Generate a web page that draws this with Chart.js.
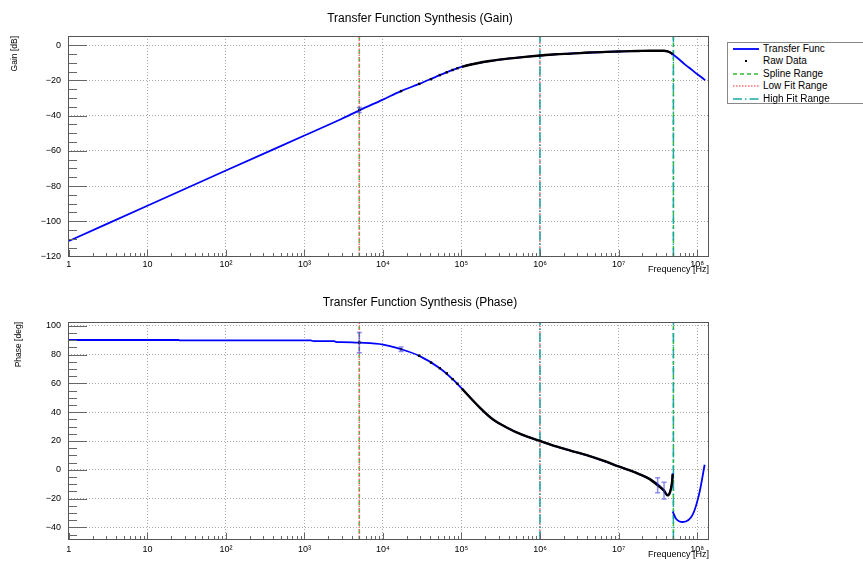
<!DOCTYPE html>
<html>
<head>
<meta charset="utf-8">
<script src="https://cdn.jsdelivr.net/npm/chart.js@4.4.1/dist/chart.umd.min.js"></script>
<style>
  body { margin: 0; background: #fff; font-family: 'Liberation Sans', Arial, sans-serif; }
  #wrap { position: relative; width: 863px; height: 563px; overflow: hidden; }
  canvas { position: absolute; left: 0; }
  .title { position: absolute; left: 420px; transform: translateX(-50%); font-size: 12px; line-height: 14px; white-space: nowrap; }
  #legend { position: absolute; left: 727px; top: 42px; width: 150px; height: 62px; border: 1px solid #888; box-sizing: border-box; background: #fff; font-size: 10px; }
  #legend .row { position: absolute; left: 0; width: 100%; height: 12.4px; line-height: 12.4px; }
  #legend svg { position: absolute; left: 0; top: 0; }
  #legend span { position: absolute; left: 35px; }
</style>
</head>
<body>
<div id="wrap">
  <canvas id="gain" width="863" height="282" style="top:0"></canvas>
  <canvas id="phase" width="863" height="281" style="top:282px"></canvas>
  <div class="title" style="top:11px">Transfer Function Synthesis (Gain)</div>
  <div class="title" style="top:295px">Transfer Function Synthesis (Phase)</div>
  <div id="legend">
    <div class="row" style="top:0">
      <svg width="34" height="12"><line x1="5" y1="6" x2="31" y2="6" stroke="#0000ff" stroke-width="1.8"/></svg>
      <span>Transfer Func</span>
    </div>
    <div class="row" style="top:12.4px">
      <svg width="34" height="12"><rect x="17" y="5" width="2" height="2" fill="#000"/></svg>
      <span>Raw Data</span>
    </div>
    <div class="row" style="top:24.8px">
      <svg width="34" height="12"><line x1="5" y1="6" x2="31" y2="6" stroke="#33bb33" stroke-width="1.5" stroke-dasharray="4 3"/></svg>
      <span>Spline Range</span>
    </div>
    <div class="row" style="top:37.2px">
      <svg width="34" height="12"><line x1="5" y1="6" x2="31" y2="6" stroke="#ff6f6f" stroke-width="1.5" stroke-dasharray="1.5 1.5"/></svg>
      <span>Low Fit Range</span>
    </div>
    <div class="row" style="top:49.6px">
      <svg width="34" height="12"><line x1="5" y1="6" x2="31" y2="6" stroke="#1aa8a8" stroke-width="1.5" stroke-dasharray="9 3 1.5 3"/></svg>
      <span>High Fit Range</span>
    </div>
  </div>
</div>
<script>
// frequency axis (Hz)
const decadeTicks = [1, 10, 100, 1e3, 1e4, 1e5, 1e6, 1e7, 1e8];
const decadeLabels = ['1', '10', '10²', '10³', '10⁴', '10⁵', '10⁶', '10⁷', '10⁸'];
const gainTicks = [-120, -100, -80, -60, -40, -20, 0];
const phaseTicks = [-40, -20, 0, 20, 40, 60, 80, 100];

// fit windows
const splineRange = [5e3, 5e7];
const lowFitRange = [5e3, 1e6];
const highFitRange = [1e6, 5e7];

// measured sweep
const rawFreq = [5e3, 1.7e4, 2.9e4, 4.1e4, 5.3e4, 6.5e4, 7.7e4, 8.9e4,
  1.01e5, 1.7e5, 2.5e5, 3.7e5, 6e5, 1e6, 1.6e6, 2.5e6, 4.2e6, 7e6,
  1e7, 1.4e7, 1.8e7, 2.5e7, 3.15e7, 3.8e7, 4.2e7, 4.5e7, 4.8e7, 4.9e7];
const rawGain = [-36.8, -26.1, -22.0, -19.3, -17.0, -15.4, -14.1, -13.1,
  -12.3, -10.0, -8.8, -7.8, -6.8, -5.9, -5.2, -4.8, -4.2, -3.8,
  -3.6, -3.4, -3.3, -3.2, -3.2, -3.2, -3.5, -4.0, -4.8, -5.2];
const rawGainErr = [1.4, 0, 0, 0, 0, 0, 0, 0,
  0, 0, 0, 0, 0, 0, 0, 0, 0, 0,
  0, 0, 0, 0, 0, 0, 0, 0, 0, 0];
const rawPhase = [88.4, 83.8, 79.2, 74.5, 70.6, 67.0, 63.0, 59.8,
  56.5, 43.4, 35.1, 29.6, 24.2, 20.1, 16.2, 13.2, 9.7, 5.6,
  2.3, -0.4, -2.8, -6.5, -10.8, -14.5, -17.8, -16.0, -9.0, -3.0];
const rawPhaseErr = [7, 1.6, 0, 0, 0, 0, 0, 0,
  0, 0, 0, 0, 0, 0, 0, 0, 0, 0,
  0, 0, 0, 0, 5.2, 5.8, 0, 0, 0, 0];

// synthesized transfer function
const fitGainFreq = [1, 10, 100, 1e3, 3e3, 5e3, 1e4, 1.7e4, 2.9e4, 5.3e4, 1e5, 1.7e5,
  3.7e5, 1e6, 2.5e6, 1e7, 2.5e7, 3.8e7, 4.4e7, 4.9e7, 6e7, 7e7, 8.5e7, 1e8, 1.15e8, 1.27e8];
const fitGain = [-111.2, -91.2, -71.2, -51.3, -41.8, -37.0, -30.9, -26.1, -22.0, -17.0, -12.3, -10.0,
  -7.8, -5.9, -4.7, -3.6, -3.2, -3.2, -3.8, -5.2, -8.3, -10.9, -13.8, -16.4, -18.4, -20.0];
const fitPhaseFreq = [1, 25, 26, 1200, 1300, 2400, 2500, 3000, 5e3, 1e4, 1.7e4, 2.9e4,
  5.3e4, 7.7e4, 1e5, 1.7e5, 2.5e5, 3.7e5, 6e5, 1e6, 1.6e6, 4.2e6, 1e7, 1.8e7,
  2.5e7, 3.2e7, 3.7e7, 4.2e7, 4.5e7, 4.8e7, 4.9e7, 4.9e7, 4.9e7, 5.4e7, 6.6e7, 8.8e7, 1.07e8, 1.25e8];
const fitPhase = [90.2, 90.2, 89.9, 89.9, 89.4, 89.4, 88.9, 88.7, 88.3, 87.0, 83.8, 79.2,
  70.6, 63.0, 56.7, 43.4, 35.1, 29.6, 24.2, 20.1, 16.2, 9.7, 2.3, -2.8,
  -6.5, -10.4, -13.9, -17.5, -16.0, -9.0, -2.5, null, -29.0, -34.0, -36.3, -31.2, -16.2, 3.5];

Chart.defaults.font.family = "'Liberation Sans', Arial, sans-serif";
Chart.defaults.color = '#000';

const points = (xs, ys) => xs.map((x, i) => ({ x, y: ys[i] }));
const rangeLine = (range, lo, hi) => range.flatMap(f => [{ x: f, y: lo }, { x: f, y: hi }, { x: f, y: null }]);
const minus = v => String(v).replace('-', '\u2212');
const sweepStart = 1e5;

// frame, inward ticks and error bars, drawn the way the analysis canvas does it
const framePlugin = {
  id: 'frame',
  afterDatasetsDraw(chart, args, opts) {
    const { ctx, chartArea: a, scales: { x, y } } = chart;
    ctx.save();

    ctx.strokeStyle = 'rgba(60, 60, 235, 0.6)';
    ctx.lineWidth = 1.5;
    ctx.beginPath();
    opts.errFreq.forEach((f, i) => {
      const e = opts.err[i];
      if (!e) return;
      const px = x.getPixelForValue(f);
      const top = y.getPixelForValue(opts.errVal[i] + e);
      const bot = y.getPixelForValue(opts.errVal[i] - e);
      ctx.moveTo(px, top); ctx.lineTo(px, bot);
      ctx.moveTo(px - 2.5, top); ctx.lineTo(px + 2.5, top);
      ctx.moveTo(px - 2.5, bot); ctx.lineTo(px + 2.5, bot);
    });
    ctx.stroke();

    ctx.strokeStyle = '#666';
    ctx.lineWidth = 1;
    ctx.beginPath();
    for (let d = 0; d <= 8; d++) {
      for (let m = 1; m <= 9; m++) {
        const v = m * 10 ** d;
        if (v < x.min || v > x.max) continue;
        const px = Math.round(x.getPixelForValue(v)) + 0.5;
        ctx.moveTo(px, a.bottom);
        ctx.lineTo(px, a.bottom - (m === 1 ? 7 : 4));
      }
    }
    for (let v = Math.ceil(y.min / opts.minorStep) * opts.minorStep; v <= y.max; v += opts.minorStep) {
      const py = Math.round(y.getPixelForValue(v)) + 0.5;
      ctx.moveTo(a.left, py);
      ctx.lineTo(a.left + (v % opts.majorStep === 0 ? 19 : 9), py);
    }
    ctx.stroke();

    ctx.strokeStyle = '#555';
    ctx.strokeRect(a.left + 0.5, a.top + 0.5, a.width - 1, a.height - 1);
    ctx.restore();
  },
};

function plot(id, cfg) {
  const canvas = document.getElementById(id);
  return new Chart(canvas, {
    type: 'line',
    data: {
      datasets: [
        {
          label: 'Raw Data',
          data: points(rawFreq, cfg.raw),
          borderColor: '#000',
          backgroundColor: '#000',
          borderWidth: 2.4,
          pointStyle: 'rect',
          pointBorderWidth: 0,
          pointRadius: ctx => (ctx.raw && ctx.raw.x < sweepStart ? 1.7 : 0),
          cubicInterpolationMode: 'monotone',
          segment: { borderColor: ctx => (ctx.p0.parsed.x < sweepStart ? 'transparent' : '#000') },
          order: 0,
        },
        {
          label: 'Transfer Func',
          data: points(cfg.fitFreq, cfg.fit),
          borderColor: '#0000ff',
          borderWidth: 1.8,
          pointRadius: 0,
          cubicInterpolationMode: 'monotone',
          order: 1,
        },
        {
          label: 'Spline Range',
          data: rangeLine(splineRange, cfg.min, cfg.max),
          borderColor: '#33bb33',
          borderWidth: 1.5,
          borderDash: [4, 3],
          pointRadius: 0,
          order: 4,
        },
        {
          label: 'Low Fit Range',
          data: rangeLine(lowFitRange, cfg.min, cfg.max),
          borderColor: '#ff6f6f',
          borderWidth: 1.5,
          borderDash: [1.5, 1.5],
          pointRadius: 0,
          order: 3,
        },
        {
          label: 'High Fit Range',
          data: rangeLine(highFitRange, cfg.min, cfg.max),
          borderColor: '#1aa8a8',
          borderWidth: 1.5,
          borderDash: [9, 3, 1.5, 3],
          pointRadius: 0,
          order: 2,
        },
      ],
    },
    options: {
      responsive: false,
      animation: false,
      spanGaps: false,
      layout: { padding: { top: cfg.top, right: 863 - 709, bottom: 0, left: 0 } },
      plugins: {
        legend: { display: false },
        tooltip: { enabled: false },
        frame: { minorStep: 5, majorStep: 20, errFreq: rawFreq, errVal: cfg.raw, err: cfg.err },
      },
      scales: {
        x: {
          type: 'logarithmic',
          bounds: 'data',
          min: 0.975,
          max: 1.42e8,
          afterFit: s => { s.height = canvas.height - cfg.bottom; },
          afterBuildTicks: s => { s.ticks = decadeTicks.map(value => ({ value })); },
          ticks: {
            autoSkip: false,
            maxRotation: 0,
            padding: cfg.tickPad,
            font: { size: 9 },
            callback: (v, i) => decadeLabels[i],
          },
          grid: { color: '#a8a8a8', lineWidth: 1, drawTicks: false },
          border: { display: false, dash: [1, 2] },
          title: {
            display: true,
            text: 'Frequency [Hz]',
            align: 'end',
            font: { size: 9 },
            padding: { top: 0, bottom: cfg.xTitlePad },
          },
        },
        y: {
          type: 'linear',
          bounds: 'data',
          min: cfg.min,
          max: cfg.max,
          afterFit: s => { s.width = 68; },
          afterBuildTicks: s => { s.ticks = cfg.ticks.map(value => ({ value })); },
          ticks: { padding: 7, font: { size: 9 }, callback: v => minus(v) },
          grid: { color: '#a8a8a8', lineWidth: 1, drawTicks: false },
          border: { display: false, dash: [1, 2] },
          title: {
            display: true,
            text: cfg.label,
            align: 'end',
            font: { size: 8.5 },
            padding: { top: cfg.yTitlePad, bottom: 0 },
          },
        },
      },
    },
    plugins: [framePlugin],
  });
}

plot('gain', {
  raw: rawGain, err: rawGainErr, fitFreq: fitGainFreq, fit: fitGain,
  min: -120.3, max: 5.2, ticks: gainTicks, label: 'Gain [dB]',
  top: 36, bottom: 257, tickPad: 2, xTitlePad: 6.6, yTitlePad: 10,
});

plot('phase', {
  raw: rawPhase, err: rawPhaseErr, fitFreq: fitPhaseFreq, fit: fitPhase,
  min: -48.8, max: 102.7, ticks: phaseTicks, label: 'Phase [deg]',
  top: 40, bottom: 258, tickPad: 4, xTitlePad: 2.6, yTitlePad: 14,
});
</script>
</body>
</html>
